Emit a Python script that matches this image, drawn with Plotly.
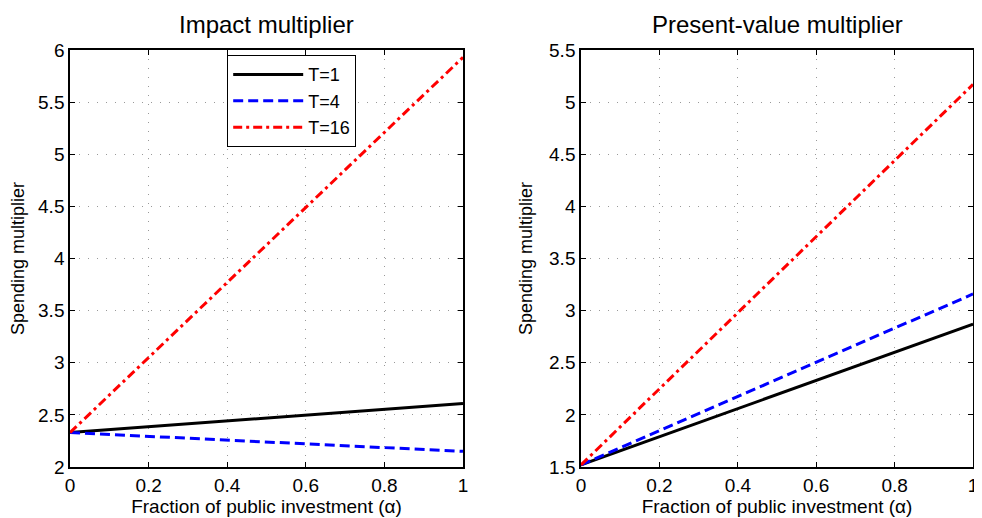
import plotly.graph_objects as go

alpha = [0, 1]
impact_T1 = [2.33, 2.61]
impact_T4 = [2.33, 2.15]
impact_T16 = [2.33, 5.93]
pv_T1 = [1.52, 2.87]
pv_T4 = [1.52, 3.16]
pv_T16 = [1.52, 5.17]
series_names = ["T=1", "T=4", "T=16"]
colors = ["black", "blue", "red"]
dashes = ["solid", "10px,5px", "9px,4px,3px,4px"]

fig = go.Figure()
for vals, name, c, d in zip([impact_T1, impact_T4, impact_T16], series_names, colors, dashes):
    fig.add_trace(go.Scatter(x=alpha, y=vals, mode="lines", name=name,
                             line=dict(color=c, width=3, dash=d), xaxis="x", yaxis="y"))
for vals, name, c, d in zip([pv_T1, pv_T4, pv_T16], series_names, colors, dashes):
    fig.add_trace(go.Scatter(x=alpha, y=vals, mode="lines", name=name, showlegend=False,
                             line=dict(color=c, width=3, dash=d), xaxis="x2", yaxis="y2"))

font = "Liberation Sans, Arial, sans-serif"
axis_common = dict(showline=True, linecolor="black", linewidth=1.5, mirror="ticks",
                   ticks="inside", ticklen=5, tickcolor="black", showgrid=True,
                   gridcolor="#999", griddash="1px,8px", gridwidth=1, zeroline=False,
                   automargin=False, ticklabeloverflow="allow",
                   tickfont=dict(size=19, color="black", family=font))
xtick = dict(tickmode="array", tickvals=[0, 0.2, 0.4, 0.6, 0.8, 1],
             ticktext=["0", "0.2", "0.4", "0.6", "0.8", "1"], range=[0, 1])
xtitle = dict(text="Fraction of public investment (α)", font=dict(size=19, family=font, color="black"), standoff=4)
ytitle = dict(text="Spending multiplier", font=dict(size=18, family=font, color="black"), standoff=12)

W, H = 966, 510
fig.update_layout(
    width=W, height=H,
    margin=dict(l=0, r=0, t=0, b=0),
    paper_bgcolor="white", plot_bgcolor="white",
    font=dict(family=font, color="black"),
    xaxis=dict(domain=[0.0642, 0.4710], anchor="y", title=xtitle, **xtick, **axis_common),
    yaxis=dict(domain=[0.10, 0.9176], anchor="x", range=[2, 6],
               tickvals=[2, 2.5, 3, 3.5, 4, 4.5, 5, 5.5, 6],
               ticktext=["2", "2.5", "3", "3.5", "4", "4.5", "5", "5.5", "6"],
               title=ytitle, **axis_common),
    xaxis2=dict(domain=[0.5932, 0.999], anchor="y2", title=xtitle, **xtick, **axis_common),
    yaxis2=dict(domain=[0.10, 0.9176], anchor="x2", range=[1.5, 5.5],
                tickvals=[1.5, 2, 2.5, 3, 3.5, 4, 4.5, 5, 5.5],
                ticktext=["1.5", "2", "2.5", "3", "3.5", "4", "4.5", "5", "5.5"],
                title=ytitle, **axis_common),
    legend=dict(x=0.2267, y=0.9078, xanchor="left", yanchor="top",
                bordercolor="black", borderwidth=1.2, bgcolor="white",
                font=dict(size=18, family=font, color="black"),
                tracegroupgap=0, itemwidth=70),
    annotations=[
        dict(text="Impact multiplier", x=0.2681, y=0.9667, xref="paper", yref="paper",
             xanchor="center", yanchor="middle",
             showarrow=False, font=dict(size=24, family=font, color="black")),
        dict(text="Present-value multiplier", x=0.7971, y=0.9667, xref="paper", yref="paper",
             xanchor="center", yanchor="middle",
             showarrow=False, font=dict(size=24, family=font, color="black")),
    ],
)

fig.write_html("out.html")
